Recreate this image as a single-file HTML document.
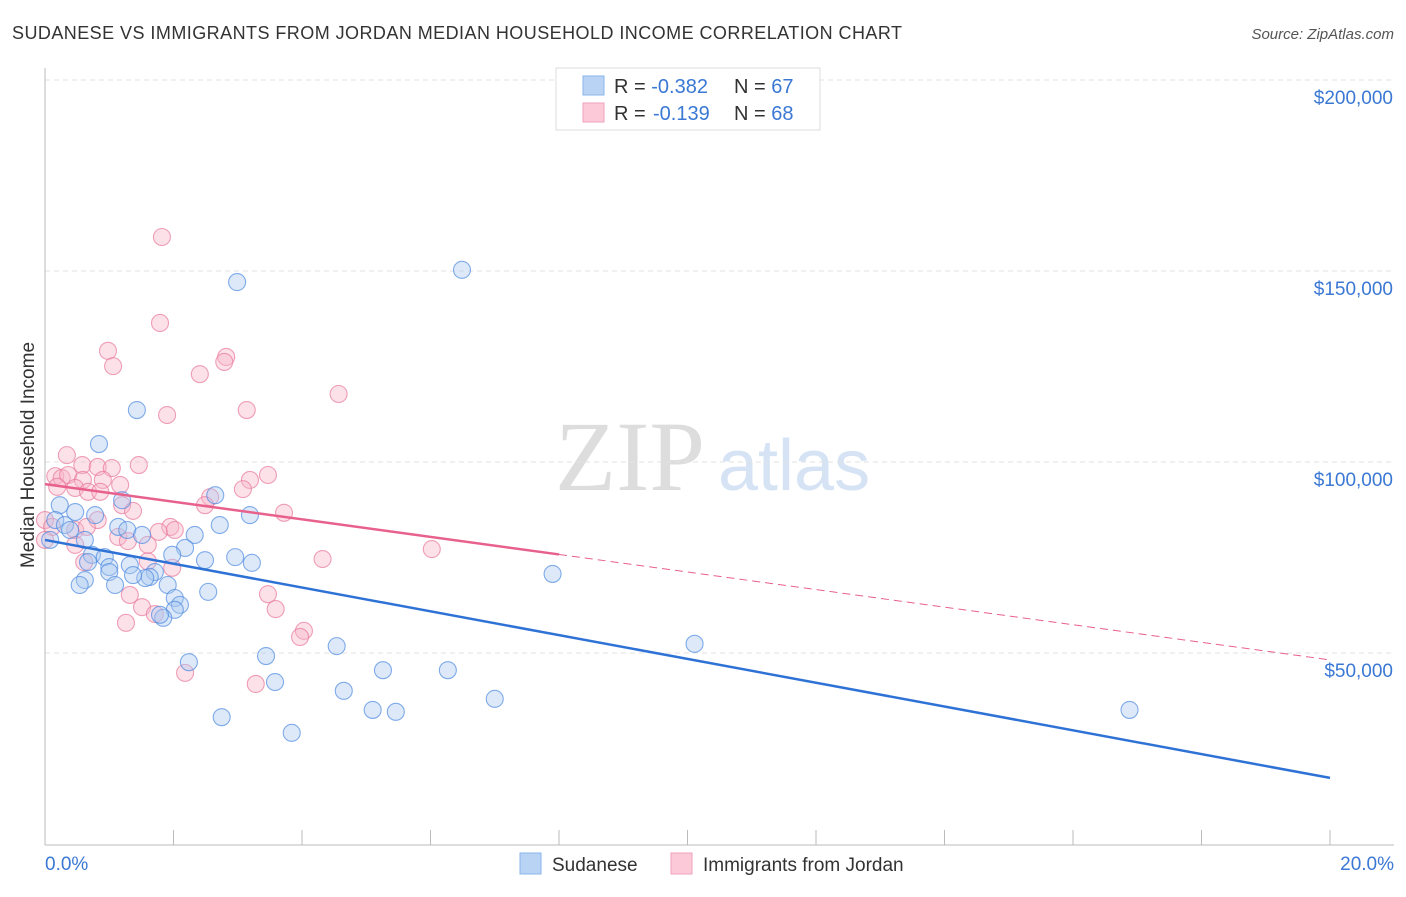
<!DOCTYPE html>
<html><head><meta charset="utf-8"><style>
body{margin:0;background:#fff;font-family:"Liberation Sans",sans-serif;}
</style></head><body>
<svg id="chart" width="1406" height="892" viewBox="0 0 1406 892" xmlns="http://www.w3.org/2000/svg" font-family="Liberation Sans, sans-serif">
<text x="12" y="39" font-size="18" fill="#333" textLength="890">SUDANESE VS IMMIGRANTS FROM JORDAN MEDIAN HOUSEHOLD INCOME CORRELATION CHART</text>
<text x="1394" y="39" font-size="15" fill="#555" font-style="italic" text-anchor="end">Source: ZipAtlas.com</text>
<g>
<text x="555" y="490" font-size="100" fill="#ddd" font-family="Liberation Serif, serif">ZIP</text>
<text x="718" y="490" font-size="72" fill="#d5e3f5">atlas</text>
</g>
<g id="grid"></g>
<g id="axes"></g>
<g id="points"></g>
<g id="trends"></g>
<text transform="translate(34,455) rotate(-90)" font-size="19" fill="#333" text-anchor="middle">Median Household Income</text>
<g>
<rect x="556" y="68" width="264" height="62" fill="#fff" stroke="#ddd"/>
<rect x="583" y="76" width="21" height="19" fill="#b9d3f5" stroke="#8ab4ea"/>
<rect x="583" y="103" width="21" height="19" fill="#fbc9d8" stroke="#f1a2bb"/>
<text x="614" y="93" font-size="20" fill="#333">R = <tspan fill="#3a78d4">-0.382</tspan><tspan x="734">N = </tspan><tspan fill="#3a78d4">67</tspan></text>
<text x="614" y="120" font-size="20" fill="#333">R = <tspan fill="#3a78d4" x="653">-0.139</tspan><tspan x="734">N = </tspan><tspan fill="#3a78d4">68</tspan></text>
</g>
<g>
<rect x="520" y="853" width="21" height="21" fill="#b9d3f5" stroke="#8ab4ea"/>
<text x="552" y="871" font-size="19" fill="#333">Sudanese</text>
<rect x="671" y="853" width="21" height="21" fill="#fbc9d8" stroke="#f1a2bb"/>
<text x="703" y="871" font-size="19" fill="#333">Immigrants from Jordan</text>
</g>
</svg>
<script>
const yTicks=[50000,100000,150000,200000];
const yTickLabels=["$50,000","$100,000","$150,000","$200,000"];
const xEndLabels=["0.0%","20.0%"];
const blueX=[6.49,2.99,1.43,0.84,2.65,1.20,3.19,0.23,0.47,0.78,0.16,0.31,0.39,2.72,1.14,1.28,1.51,2.33,0.08,0.62,0.73,2.18,1.98,2.96,0.93,2.49,3.22,0.67,1.00,1.32,1.00,1.71,1.63,1.56,1.37,0.62,1.91,0.54,1.09,7.90,2.54,2.02,2.10,2.02,1.84,1.79,10.11,4.54,3.44,2.24,5.26,6.27,3.58,4.65,7.00,5.10,5.46,2.75,3.84,16.88];
const blueY=[150.3,147.1,113.6,104.7,91.3,90.0,86.1,88.7,86.9,86.1,84.8,83.5,82.2,83.5,83.0,82.2,80.9,80.9,79.6,79.6,75.7,77.5,75.7,75.1,75.1,74.3,73.6,73.8,72.5,73.0,71.2,71.2,69.9,69.6,70.4,69.1,67.8,67.8,67.8,70.7,66.0,64.4,62.6,61.3,59.2,60.0,52.4,51.8,49.2,47.6,45.5,45.5,42.4,40.1,38.0,35.1,34.6,33.2,29.1,35.1];
const pinkX=[1.82,1.79,0.98,1.06,2.82,2.79,2.41,4.57,1.90,3.14,0.34,0.58,0.82,1.04,1.46,0.16,0.26,0.36,0.59,0.90,3.47,3.19,0.19,0.47,1.17,3.08,0.67,0.86,2.57,2.49,1.20,1.37,3.72,0,0.82,0.11,0.47,0.65,1.95,2.02,1.77,1.14,1.29,1.60,0,0.47,6.02,4.32,1.60,0.61,1.98,3.47,1.32,3.59,1.51,1.71,1.26,4.03,3.97,2.18,3.28];
const pinkY=[158.9,136.4,129.1,125.1,127.5,126.2,123.0,117.8,112.3,113.6,101.8,99.2,98.7,98.4,99.2,96.3,95.8,96.6,95.3,95.3,96.6,95.3,93.5,93.2,94.0,92.9,92.2,92.2,90.8,88.7,88.7,87.2,86.7,84.8,84.8,83.0,82.2,83.0,83.0,82.2,81.7,80.4,79.3,78.3,79.6,78.3,77.2,74.6,74.0,73.8,72.3,65.4,65.2,61.5,62.0,60.2,57.9,55.8,54.2,44.8,41.9];
const blueTrend=[79.6,17.3];
const pinkTrend=[94.2,48.2];
const pinkSolidEnd=8.0;
const NS="http://www.w3.org/2000/svg";
function xS(p){return 45+p/20*1285;}
function yS(v){return 653-(v-50000)*191/50000;}
function mk(parent,tag,attrs){const e=document.createElementNS(NS,tag);for(const k in attrs)e.setAttribute(k,attrs[k]);document.getElementById(parent).appendChild(e);return e;}
yTicks.forEach((t,i)=>{
 const l=mk('grid','line',{x1:45,x2:1394,y1:yS(t),y2:yS(t),stroke:'#e2e2e2','stroke-dasharray':'5,4'});
 
 
 const tx=mk('axes','text',{x:1393,y:yS(t)+24,'font-size':19,fill:'#3a78d4','text-anchor':'end'});
 tx.textContent=yTickLabels[i];
 
 
});
const ax=mk('axes','line',{x1:45,x2:45,y1:68,y2:845,stroke:'#bbb'});


const bx=mk('axes','line',{x1:45,x2:1394,y1:845,y2:845,stroke:'#bbb'});


for(let i=1;i<=10;i++){const t=mk('axes','line',{x1:xS(i*2),x2:xS(i*2),y1:830,y2:845,stroke:'#bbb'});
 
 }
[[0,'start',45],[20,'end',1394]].forEach((d,i)=>{const t=mk('axes','text',{x:d[2],y:870,'font-size':19,fill:'#3a78d4','text-anchor':d[1]});t.textContent=xEndLabels[i];
 
 });
function pts(X,Y,fill,stroke,name){X.forEach((x,i)=>{const c=mk('points','circle',{cx:xS(x),cy:yS(Y[i]*1000),r:(x===0&&name==='sudanese-point')?13:8.5,fill:fill,'fill-opacity':0.4,stroke:stroke,'stroke-opacity':0.7,'stroke-width':1.1});
 
 });}
pts(pinkX,pinkY,'#f7b3c8','#e8799d','jordan-point');
pts(blueX,blueY,'#a9c8f0','#4f8ae0','sudanese-point');
const bl=mk('trends','line',{x1:xS(0),y1:yS(blueTrend[0]*1000),x2:xS(20),y2:yS(blueTrend[1]*1000),stroke:'#2f72d6','stroke-width':2.5});


const pv=v=>pinkTrend[0]+(pinkTrend[1]-pinkTrend[0])*v/20;
const ps=mk('trends','line',{x1:xS(0),y1:yS(pinkTrend[0]*1000),x2:xS(pinkSolidEnd),y2:yS(pv(pinkSolidEnd)*1000),stroke:'#e8608c','stroke-width':2.5});


const pd=mk('trends','line',{x1:xS(pinkSolidEnd),y1:yS(pv(pinkSolidEnd)*1000),x2:xS(20),y2:yS(pinkTrend[1]*1000),stroke:'#e8608c','stroke-width':1,'stroke-dasharray':'8,5'});


</script>
</body></html>
